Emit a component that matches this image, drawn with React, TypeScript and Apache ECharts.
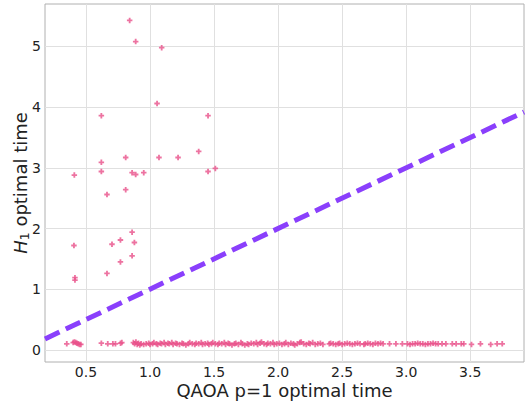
import React, { useEffect, useRef } from "react";
import * as echarts from "echarts";

const xTicks = [0.5, 1.0, 1.5, 2.0, 2.5, 3.0, 3.5];
const yTicks = [0, 1, 2, 3, 4, 5];

const highPoints: number[][] = [
  [0.841, 5.43], [0.888, 5.08], [1.091, 4.98], [1.055, 4.06], [0.62, 3.86], [1.453, 3.86],
  [1.38, 3.27], [0.81, 3.17], [1.07, 3.17], [1.219, 3.17], [0.62, 3.09], [1.51, 2.99],
  [0.62, 2.94], [1.453, 2.94], [0.409, 2.88], [0.86, 2.92], [0.888, 2.89], [0.951, 2.92],
  [0.81, 2.64], [0.664, 2.56], [0.86, 1.94], [0.406, 1.72], [0.703, 1.74], [0.769, 1.81],
  [0.878, 1.77], [0.769, 1.45], [0.86, 1.55], [0.664, 1.26], [0.414, 1.19], [0.414, 1.15],
];

const lowPoints: number[][] = [
  [0.35, 0.10], [0.40, 0.12], [0.41, 0.13], [0.42, 0.12], [0.43, 0.11], [0.44, 0.10], [0.45, 0.09], [0.46, 0.09],
  [0.62, 0.11], [0.67, 0.10], [0.71, 0.10], [0.73, 0.10], [0.77, 0.11], [0.78, 0.12],
  [0.87, 0.12], [0.88, 0.10], [0.89, 0.13], [0.90, 0.09], [0.91, 0.11], [0.92, 0.08], [0.93, 0.10], [0.95, 0.09],
  [0.97, 0.10], [0.99, 0.11], [1.00, 0.09], [1.02, 0.10], [1.03, 0.12], [1.05, 0.10], [1.06, 0.09], [1.08, 0.11],
  [1.09, 0.10], [1.11, 0.12], [1.12, 0.09], [1.14, 0.11], [1.15, 0.10], [1.17, 0.12], [1.18, 0.09], [1.20, 0.11],
  [1.21, 0.10], [1.23, 0.09], [1.25, 0.11], [1.26, 0.10], [1.28, 0.08], [1.30, 0.10], [1.31, 0.12], [1.33, 0.10],
  [1.35, 0.09], [1.36, 0.11], [1.38, 0.10], [1.40, 0.12], [1.41, 0.09], [1.43, 0.10], [1.45, 0.11], [1.46, 0.09],
  [1.48, 0.10], [1.49, 0.12], [1.51, 0.10], [1.53, 0.09], [1.54, 0.11], [1.56, 0.10], [1.58, 0.12], [1.59, 0.09],
  [1.61, 0.11], [1.62, 0.10], [1.64, 0.08], [1.66, 0.10], [1.67, 0.11], [1.69, 0.09], [1.71, 0.12], [1.72, 0.10],
  [1.74, 0.08], [1.76, 0.10], [1.77, 0.09], [1.79, 0.11], [1.81, 0.10], [1.83, 0.12], [1.84, 0.09], [1.86, 0.11],
  [1.87, 0.13], [1.89, 0.10], [1.91, 0.09], [1.92, 0.11], [1.94, 0.10], [1.96, 0.12], [1.97, 0.09], [1.99, 0.10],
  [2.01, 0.11], [2.03, 0.09], [2.05, 0.10], [2.06, 0.12], [2.08, 0.09], [2.10, 0.11], [2.12, 0.10], [2.13, 0.08],
  [2.15, 0.10], [2.17, 0.12], [2.18, 0.13], [2.20, 0.10], [2.22, 0.09], [2.24, 0.11], [2.25, 0.10], [2.27, 0.12],
  [2.29, 0.09], [2.31, 0.10], [2.33, 0.11], [2.35, 0.09], [2.40, 0.10], [2.41, 0.11], [2.43, 0.10], [2.45, 0.09],
  [2.47, 0.10], [2.48, 0.11], [2.50, 0.09], [2.52, 0.10], [2.54, 0.11], [2.56, 0.10], [2.58, 0.09], [2.60, 0.10],
  [2.62, 0.11], [2.64, 0.10], [2.67, 0.09], [2.68, 0.10], [2.70, 0.11], [2.72, 0.10], [2.74, 0.09], [2.76, 0.11],
  [2.78, 0.10], [2.80, 0.11], [2.82, 0.10], [2.87, 0.10], [2.92, 0.10], [2.97, 0.10], [3.01, 0.10], [3.03, 0.09],
  [3.05, 0.10], [3.07, 0.10], [3.09, 0.11], [3.11, 0.10], [3.13, 0.10], [3.15, 0.09], [3.17, 0.10], [3.19, 0.10],
  [3.21, 0.11], [3.23, 0.10], [3.25, 0.10], [3.28, 0.10], [3.31, 0.10], [3.36, 0.10], [3.39, 0.10], [3.43, 0.10],
  [3.45, 0.10], [3.51, 0.09], [3.58, 0.10], [3.66, 0.09], [3.71, 0.10], [3.75, 0.10],
];

const diagonal: number[][] = [[0.18, 0.18], [3.92, 3.92]];

const PLUS = "path://M1,0H2V1H3V2H2V3H1V2H0V1H1Z";

export default function App() {
  const ref = useRef<HTMLDivElement>(null);
  useEffect(() => {
    if (!ref.current) return;
    const chart = echarts.init(ref.current, undefined, { renderer: "svg" });
    const font = "DejaVu Sans";
    chart.setOption({
      animation: false,
      textStyle: { fontFamily: font },
      grid: {
        left: 45, right: 4, top: 4, bottom: 42,
        containLabel: false, outerBoundsMode: "none",
        show: true, borderColor: "#b0b0b0", borderWidth: 1, backgroundColor: "transparent",
      },
      xAxis: {
        type: "value",
        min: 0.18,
        max: 3.92,
        axisLine: { show: false },
        axisTick: { show: false, customValues: xTicks },
        axisLabel: { customValues: xTicks, fontSize: 14, color: "#222", margin: 3, fontFamily: font, formatter: (v: number) => v.toFixed(1) },
        splitLine: { show: true, lineStyle: { color: "#e0e0e0", width: 1 } },
        name: "QAOA p=1 optimal time",
        nameLocation: "middle",
        nameGap: 19,
        nameMoveOverlap: false,
        nameTextStyle: { fontSize: 18, color: "#222", fontFamily: font },
      },
      yAxis: {
        type: "value",
        min: -0.2,
        max: 5.7,
        axisLine: { show: false },
        axisTick: { show: false, customValues: yTicks },
        axisLabel: { customValues: yTicks, fontSize: 14, color: "#222", margin: 4, fontFamily: font },
        splitLine: { show: true, lineStyle: { color: "#e0e0e0", width: 1 } },
        name: "{i|H}{s|1} optimal time",
        nameLocation: "middle",
        nameGap: 14,
        nameMoveOverlap: false,
        nameTextStyle: {
          fontSize: 18,
          color: "#222",
          fontFamily: font,
          rich: {
            i: { fontSize: 18, fontStyle: "italic", color: "#222", fontFamily: font },
            s: { fontSize: 12.5, color: "#222", fontFamily: font, verticalAlign: "bottom", padding: [8, 0, 0, 0] },
          },
        },
      },
      series: [
        {
          type: "line",
          data: diagonal,
          symbol: "none",
          lineStyle: { color: "#8a3ffc", width: 5, type: [16, 7], cap: "butt" },
          z: 1,
          silent: true,
        },
        {
          type: "scatter",
          data: lowPoints,
          symbol: PLUS,
          symbolSize: 5.5,
          itemStyle: { color: "#e8508a" },
          z: 2,
        },
        {
          type: "scatter",
          data: highPoints,
          symbol: PLUS,
          symbolSize: 5.5,
          itemStyle: { color: "#e8508a" },
          z: 2,
        },
      ],
    });
    return () => chart.dispose();
  }, []);
  return <div ref={ref} style={{ width: 528, height: 404, position: "absolute", left: 0, top: 0 }} />;
}
